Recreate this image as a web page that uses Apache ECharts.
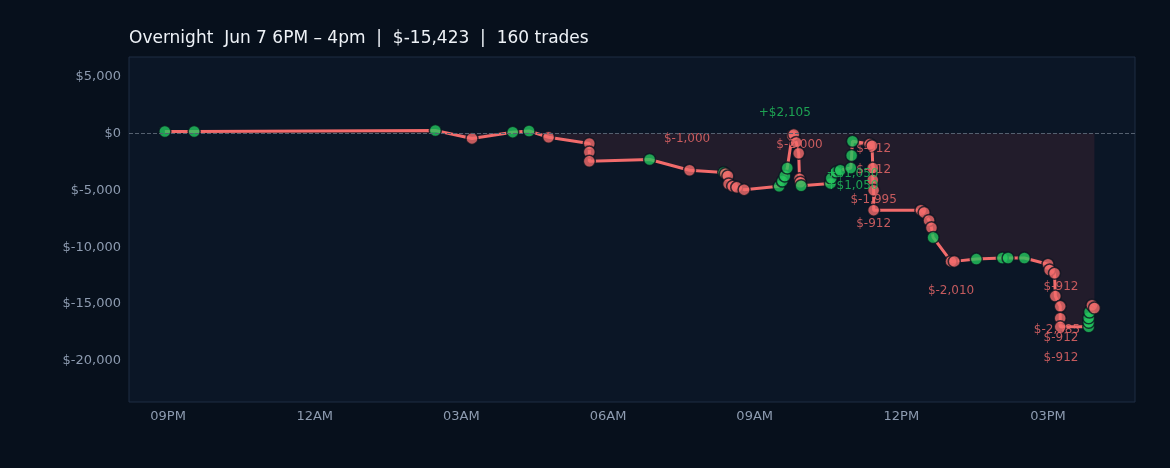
<!DOCTYPE html>
<html><head><meta charset="utf-8">
<script src="https://cdn.jsdelivr.net/npm/echarts@6/dist/echarts.min.js"></script>
<style>html,body{margin:0;padding:0;background:#07101c;}#c{width:1170px;height:468px;}</style>
</head><body><div id="c"></div>
<script>
const times = ["06 20:56","06 21:32","07 02:28","07 03:13","07 04:03","07 04:23","07 04:47",
"07 05:37","07 05:37","07 05:37","07 06:51","07 07:40","07 08:22","07 08:24","07 08:27",
"07 08:28","07 08:33","07 08:38","07 08:47","07 09:30","07 09:34","07 09:37","07 09:40",
"07 09:46","07 09:48","07 09:51","07 09:54","07 09:55","07 09:56","07 09:57","07 10:33",
"07 10:34","07 10:40","07 10:45","07 10:58","07 10:59","07 11:00","07 11:21","07 11:24",
"07 11:25","07 11:25","07 11:26","07 11:26","07 12:24","07 12:28","07 12:34","07 12:37",
"07 12:39","07 13:01","07 13:05","07 13:32","07 14:04","07 14:11","07 14:31","07 15:00",
"07 15:02","07 15:08","07 15:09","07 15:15","07 15:15","07 15:15","07 15:50","07 15:50",
"07 15:50","07 15:51","07 15:54","07 15:57"];
const pnl = [150,150,250,-450,100,200,-350,-900,-1650,-2450,-2300,-3250,-3450,-3550,-3750,-4450,-4650,-4750,-4950,-4650,-4200,-3750,-3050,
-200,-100,-800,-1750,-4000,-4300,-4600,-4400,-3950,-3400,-3250,-3050,-1950,-700,-950,-1100,-3050,-4100,-5000,-6750,-6750,-6950,-7650,-8300,
-9150,-11250,-11250,-11050,-10950,-10950,-10950,-11500,-12000,-12300,-14300,-15200,-16250,-17000,-17000,-16600,-16200,-15700,-15100,-15350];
const win = [1,1,1,0,1,1,0,0,0,0,1,0,1,0,0,0,0,0,0,1,1,1,1,0,0,0,0,0,0,1,1,1,1,1,1,1,1,0,0,0,0,0,0,0,0,0,0,1,0,0,1,1,1,1,0,0,0,0,0,0,0,1,1,1,1,0,0];
const noteTimes = ["07 09:37","07 07:37","07 09:55","07 11:26","07 11:26","07 11:00","07 11:00","07 11:26","07 11:26","07 13:01","07 15:16","07 15:11","07 15:16","07 15:16"];
const noteVals = [1750,-450,-1050,-1400,-3250,-3600,-4650,-5850,-7950,-13800,-13500,-17250,-17950,-19750];
const noteText = ["+$2,105","$-1,000","$-2,000","$-912","$-912","+$1,050","+$1,050","$-1,995","$-912","$-2,010","$-912","$-2,385","$-912","$-912"];
const noteWin = [1,0,0,0,0,1,1,0,0,0,0,0,0,0];

// hours since Jun 6 00:00
function hrs(s){const d=+s.slice(0,2)-6;const h=+s.slice(3,5);const m=+s.slice(6,8);return d*24+h+m/60;}
const RED="#f26b6b", GREEN="#22c55e";
const line = times.map((t,i)=>[hrs(t),pnl[i]]);
const pts = times.map((t,i)=>({value:[hrs(t),pnl[i]],itemStyle:{color:win[i]?GREEN:RED}}));
const notes = noteTimes.map((t,i)=>({value:[hrs(t),noteVals[i]],label:{color:noteWin[i]?GREEN:RED,formatter:noteText[i]}}));
function fmtT(v){let h=Math.round(v)%24;const ap=h<12?'AM':'PM';h=h%12;if(h===0)h=12;return String(h).padStart(2,'0')+ap;}
const ch = echarts.init(document.getElementById('c'));
ch.setOption({
  backgroundColor:'#07101c',
  animation:false,
  title:{text:'Overnight  Jun 7 6PM – 4pm  |  $-15,423  |  160 trades',left:124,top:25,textStyle:{color:'#eef2f7',fontSize:17,fontWeight:'normal',fontFamily:'DejaVu Sans'}},
  grid:{left:129,right:35,top:57,bottom:66,backgroundColor:'#0b1626',borderColor:'#1e2d42',borderWidth:1,show:true},
  xAxis:{type:'value',min:20.2,max:40.78,splitNumber:7,
    axisLine:{show:false},axisTick:{show:false},splitLine:{show:false},
    axisLabel:{color:'#8d9bb0',fontSize:13,fontFamily:'DejaVu Sans',formatter:v=>(Math.abs(v%3)<1e-6?fmtT(v):''),showMinLabel:false,showMaxLabel:false}},
  yAxis:{type:'value',min:-23600,max:6700,splitNumber:5,
    axisLine:{show:false},axisTick:{show:false},splitLine:{show:false},
    axisLabel:{color:'#8d9bb0',fontSize:13,fontFamily:'DejaVu Sans',showMinLabel:false,showMaxLabel:false,
      formatter:v=>(v%5000!==0)?'':(v<0?'$-':'$')+Math.abs(v).toLocaleString('en-US')}},
  series:[
    {type:'line',data:line,symbol:'none',lineStyle:{color:RED,width:3},
     areaStyle:{color:'rgba(200,70,80,0.18)',origin:0},z:2,
     markLine:{silent:true,symbol:'none',label:{show:false},lineStyle:{color:'#55606f',type:'dashed',width:1},data:[{yAxis:0}]}},
    {type:'scatter',data:pts,symbolSize:12,itemStyle:{borderColor:'#0a1420',borderWidth:1.5},z:3},
    {type:'scatter',data:notes,symbolSize:0,z:4,label:{show:true,position:'inside',fontSize:12,fontFamily:'DejaVu Sans'}}
  ]
});
</script></body></html>
